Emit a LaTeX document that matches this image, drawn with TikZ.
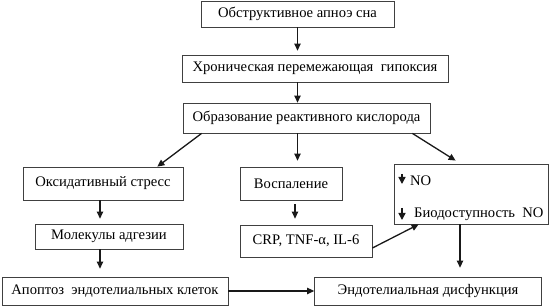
\documentclass[tikz,border=0pt]{standalone}
\usepackage{fontspec}
\setmainfont{Liberation Serif}
\usepackage{tikz}
\usetikzlibrary{arrows.meta,calc}

\tikzset{
	blok/.style={draw=black!75, line width=0.8pt, fill=white, inner sep=0pt, font=\fontsize{14.6}{16}\selectfont},
	tekst/.style={inner sep=0pt, anchor=west, font=\fontsize{14.6}{16}\selectfont},
	strelka/.style={-{Triangle[length=7pt,width=6.5pt]}, line width=1.3pt, black!90},
	malstrelka/.style={-{Triangle[length=7pt,width=7pt]}, line width=1.5pt, black!90}
}

\begin{document}
\begin{tikzpicture}[x=1pt, y=-1pt]
	\useasboundingbox (0,0) rectangle (550,307);
	
	% Блоки
	\node[blok, minimum width=193pt, minimum height=26pt] (osa) at (297.5, 14) {Обструктивное апноэ сна};
	\node[blok, minimum width=266pt, minimum height=27pt] (hpg) at (315, 68.5) {Хроническая перемежающая\ \ гипоксия};
	\node[blok, minimum width=247pt, minimum height=30pt] (rok) at (306.5, 118) {Образование реактивного кислорода};
	\node[blok, minimum width=160pt, minimum height=33pt] (oks) at (103, 183.5) {Оксидативный стресс};
	\node[blok, minimum width=102pt, minimum height=33pt] (vos) at (291, 183.5) {Воспаление};
	\node[blok, minimum width=154pt, minimum height=60pt] (nob) at (471, 194) {};
	\node[blok, minimum width=148pt, minimum height=25pt] (mol) at (109, 236.5) {\raisebox{-3pt}{Молекулы адгезии}};
	\node[blok, minimum width=132pt, minimum height=32pt] (crp) at (306, 241) {CRP, TNF-α, IL-6};
	\node[blok, minimum width=226pt, minimum height=28pt] (apo) at (115, 291) {Апоптоз\ \ эндотелиальных клеток};
	\node[blok, minimum width=227pt, minimum height=28pt] (dis) at (428, 291) {Эндотелиальная дисфункция};
	
	% Текст в блоке NO
	\node[tekst] (no1) at (410, 181) {NO};
	\node[tekst] (no2) at (414, 214) {Биодоступность\ \ NO};
	\draw[malstrelka] ($(no1.west)+(-8,-7)$) -- ++(0,10);
	\draw[malstrelka] ($(no2.west)+(-12,-6)$) -- ++(0,12);
	
	% Стрелки
	\draw[strelka, shorten >=4pt] (osa.south) -- (osa.south |- hpg.north);
	\draw[strelka] (osa.south |- hpg.south) -- (osa.south |- rok.north);
	\draw[strelka] ($(rok.south west)+(19,0)$) -- ($(oks.north east)+(-26,0)$);
	\draw[strelka, shorten >=6pt] (osa.south |- rok.south) -- (osa.south |- vos.north);
	\draw[strelka] ($(rok.south east)+(-18,0)$) -- ($(nob.north west)+(62,-3)$);
	\draw[strelka, shorten >=5pt] ([xshift=-3pt]oks.south) -- ([xshift=-3pt]oks.south |- mol.north);
	\draw[strelka, shorten >=8pt] ([xshift=-9pt]mol.south) -- ([xshift=-9pt]mol.south |- apo.north);
	\draw[strelka, shorten <=4pt, shorten >=6pt] ([xshift=4pt]vos.south) -- ([xshift=4pt]vos.south |- crp.north);
	\draw[strelka] ($(crp.east)+(0,7)$) -- ($(nob.south west)+(25,0)$);
	\draw[strelka, shorten >=9pt] ([xshift=-11pt]nob.south) -- ([xshift=-11pt]nob.south |- dis.north);
	\draw[strelka] (apo.east) -- (dis.west);
\end{tikzpicture}
\end{document}
